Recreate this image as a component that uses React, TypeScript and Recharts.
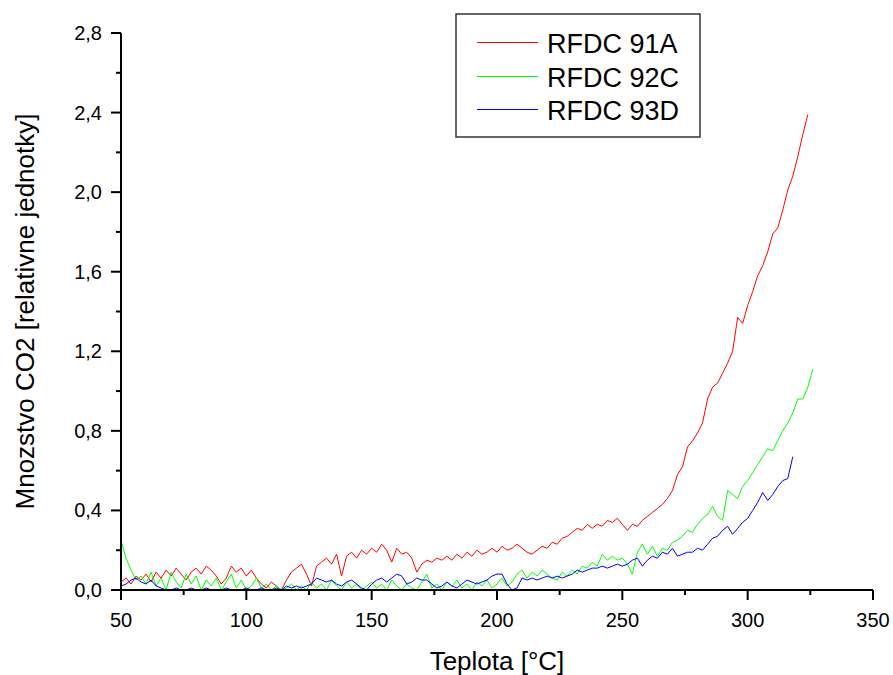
import React from 'react';
import { LineChart, Line, XAxis, YAxis, Legend } from 'recharts';

const FONT = '"Liberation Sans", Arial, sans-serif';

// teplota [°C]
const temps = [
  50, 52, 54, 56, 58, 60, 62, 64, 66, 68,
  70, 72, 74, 76, 78, 80, 82, 84, 86, 88,
  90, 92, 94, 96, 98, 100, 102, 104, 106, 108,
  110, 112, 114, 116, 118, 120, 122, 124, 126, 128,
  130, 132, 134, 136, 138, 140, 142, 144, 146, 148,
  150, 152, 154, 156, 158, 160, 162, 164, 166, 168,
  170, 172, 174, 176, 178, 180, 182, 184, 186, 188,
  190, 192, 194, 196, 198, 200, 202, 204, 206, 208,
  210, 212, 214, 216, 218, 220, 222, 224, 226, 228,
  230, 232, 234, 236, 238, 240, 242, 244, 246, 248,
  250, 252, 254, 256, 258, 260, 262, 264, 266, 268,
  270, 272, 274, 276, 278, 280, 282, 284, 286, 288,
  290, 292, 294, 296, 298, 300, 302, 304, 306, 308,
  310, 312, 314, 316, 318, 320, 322, 324, 326,
];

const rfdc91A = [
  0.04, 0.06, 0.03, 0.07, 0.05, 0.08, 0.04, 0.09, 0.06, 0.10,
  0.07, 0.11, 0.08, 0.05, 0.09, 0.11, 0.08, 0.12, 0.10, 0.07,
  0.03, 0.06, 0.12, 0.09, 0.11, 0.07, 0.10, 0.06, 0.03, 0.01,
  0.04, 0.02, 0.00, 0.05, 0.09, 0.11, 0.13, 0.08, 0.02, 0.12,
  0.14, 0.16, 0.13, 0.18, 0.07, 0.17, 0.19, 0.16, 0.20, 0.18,
  0.21, 0.19, 0.23, 0.20, 0.14, 0.21, 0.18, 0.19, 0.16, 0.09,
  0.13, 0.15, 0.14, 0.16, 0.15, 0.17, 0.15, 0.18, 0.16, 0.19,
  0.17, 0.20, 0.18, 0.19, 0.21, 0.19, 0.22, 0.20, 0.21, 0.23,
  0.21, 0.19, 0.18, 0.20, 0.22, 0.21, 0.24, 0.23, 0.26, 0.27,
  0.29, 0.31, 0.30, 0.33, 0.31, 0.33, 0.32, 0.35, 0.34, 0.36,
  0.33, 0.30, 0.33, 0.32, 0.35, 0.37, 0.39, 0.41, 0.43, 0.46,
  0.50, 0.58, 0.62, 0.72, 0.75, 0.79, 0.84, 0.96, 1.02, 1.04,
  1.09, 1.14, 1.20, 1.37, 1.34, 1.43, 1.50, 1.58, 1.63, 1.70,
  1.79, 1.82, 1.91, 2.01, 2.08, 2.18, 2.29, 2.39, null,
];

const rfdc92C = [
  0.25, 0.16, 0.10, 0.05, 0.07, 0.03, 0.09, 0.02, 0.06, 0.00,
  0.09, 0.04, 0.01, 0.08, 0.03, 0.07, 0.00, 0.05, 0.02, 0.06,
  0.00, 0.04, 0.08, 0.01, 0.05, 0.00, 0.02, 0.06, 0.01, 0.03,
  0.00, 0.02, 0.00, 0.01, 0.03, 0.00, 0.02, 0.00, 0.04, 0.01,
  0.03, 0.00, 0.05, 0.02, 0.00, 0.04, 0.01, 0.03, 0.00, 0.02,
  0.04, 0.01, 0.03, 0.00, 0.05, 0.02, 0.00, 0.03, 0.01, 0.00,
  0.04, 0.08, 0.01, 0.03, 0.00, 0.04, 0.02, 0.05, 0.01, 0.03,
  0.00, 0.04, 0.02, 0.05, 0.01, 0.03, 0.06, 0.02, 0.04, 0.08,
  0.10, 0.06, 0.09, 0.07, 0.10, 0.08, 0.06, 0.05, 0.09, 0.07,
  0.10, 0.08, 0.12, 0.11, 0.14, 0.12, 0.18, 0.15, 0.17, 0.15,
  0.16, 0.13, 0.08, 0.19, 0.23, 0.18, 0.22, 0.17, 0.21, 0.20,
  0.24, 0.25, 0.27, 0.30, 0.29, 0.33, 0.36, 0.38, 0.42, 0.37,
  0.35, 0.50, 0.48, 0.46, 0.52, 0.55, 0.59, 0.63, 0.67, 0.71,
  0.70, 0.75, 0.80, 0.84, 0.89, 0.96, 0.96, 1.02, 1.11,
];

const rfdc93D = [
  0.02, 0.03, 0.05, 0.06, 0.04, 0.03, 0.05, 0.02, 0.01, 0.00,
  0.00, 0.01, 0.00, 0.00, 0.01, 0.00, 0.00, 0.01, 0.00, 0.00,
  0.00, 0.01, 0.00, 0.00, 0.00, 0.01, 0.00, 0.00, 0.01, 0.00,
  0.00, 0.01, 0.00, 0.02, 0.01, 0.02, 0.01, 0.02, 0.03, 0.06,
  0.05, 0.04, 0.05, 0.03, 0.02, 0.04, 0.05, 0.03, 0.01, 0.00,
  0.03, 0.05, 0.06, 0.04, 0.06, 0.08, 0.07, 0.03, 0.04, 0.06,
  0.05, 0.05, 0.03, 0.01, 0.02, 0.04, 0.02, 0.01, 0.03, 0.05,
  0.04, 0.03, 0.04, 0.05, 0.07, 0.08, 0.08, 0.03, 0.00, 0.01,
  0.06, 0.05, 0.06, 0.05, 0.06, 0.07, 0.06, 0.07, 0.06, 0.07,
  0.08, 0.10, 0.09, 0.10, 0.11, 0.11, 0.12, 0.11, 0.12, 0.13,
  0.12, 0.13, 0.15, 0.16, 0.12, 0.15, 0.17, 0.16, 0.19, 0.18,
  0.21, 0.17, 0.18, 0.19, 0.19, 0.21, 0.20, 0.23, 0.26, 0.27,
  0.30, 0.32, 0.28, 0.31, 0.34, 0.36, 0.40, 0.44, 0.49, 0.45,
  0.48, 0.52, 0.55, 0.56, 0.67, null, null, null, null,
];

const seriesNames = ['RFDC 91A', 'RFDC 92C', 'RFDC 93D'];
const seriesColors = ['#ff0000', '#00ff00', '#0000ff'];

const xTicks = [50, 75, 100, 125, 150, 175, 200, 225, 250, 275, 300, 325, 350];
const xMajor = [50, 100, 150, 200, 250, 300, 350];
const yTicks = [0, 0.2, 0.4, 0.6, 0.8, 1.0, 1.2, 1.4, 1.6, 1.8, 2.0, 2.2, 2.4, 2.6, 2.8];
const yMajor = [0, 0.4, 0.8, 1.2, 1.6, 2.0, 2.4, 2.8];

const data = temps.map((t, i) => ({
  t,
  a: rfdc91A[i],
  c: rfdc92C[i],
  d: rfdc93D[i],
}));

const XTick = (props: any) => {
  const { x, y, payload } = props;
  const major = xMajor.includes(payload.value);
  return (
    <g>
      <line x1={x} x2={x} y1={y} y2={y + (major ? 10 : 5)} stroke="#000" strokeWidth={2} />
      {major && (
        <text x={x} y={y + 37} textAnchor="middle" fontSize={20} fontFamily={FONT} fill="#000">
          {payload.value}
        </text>
      )}
    </g>
  );
};

const YTick = (props: any) => {
  const { x, y, payload } = props;
  const major = yMajor.some((v) => Math.abs(v - payload.value) < 1e-6);
  return (
    <g>
      <line x1={x - (major ? 10 : 5)} x2={x} y1={y} y2={y} stroke="#000" strokeWidth={2} />
      {major && (
        <text x={x - 19} y={y + 7} textAnchor="end" fontSize={20} fontFamily={FONT} fill="#000">
          {payload.value.toFixed(1).replace('.', ',')}
        </text>
      )}
    </g>
  );
};

// legenda v ramceku, riadky ~33 px od seba
const legendRows = [29.5, 63.5, 96.5];

const LegendBox = () => (
  <svg width={246} height={125} style={{ display: 'block' }}>
    <rect x={1} y={1} width={244} height={123} fill="#fff" stroke="#333" strokeWidth={1.5} />
    {seriesNames.map((name, i) => (
      <g key={name}>
        <line x1={22} x2={83} y1={legendRows[i]} y2={legendRows[i]} stroke={seriesColors[i]} strokeWidth={1.2} />
        <text x={92} y={legendRows[i] + 10} fontSize={27} fontFamily={FONT} fill="#000">
          {name}
        </text>
      </g>
    ))}
  </svg>
);

const App: React.FC = () => {
  return (
    <div style={{ position: 'absolute', left: 0, top: 0, width: 893, height: 675, background: '#fff' }}>
      <LineChart width={893} height={675} data={data} margin={{ top: 33, right: 20, bottom: 0, left: 5 }}>
        <XAxis
          dataKey="t"
          type="number"
          domain={[50, 350]}
          ticks={xTicks}
          interval={0}
          height={85}
          tickLine={false}
          tickSize={0}
          tickMargin={0}
          tick={<XTick />}
          axisLine={{ stroke: '#000', strokeWidth: 2 }}
          allowDataOverflow
          label={{ value: 'Teplota [°C]', position: 'insideBottom', offset: 5, fontSize: 26, fontFamily: FONT, fill: '#000' }}
        />
        <YAxis
          type="number"
          domain={[0, 2.8]}
          ticks={yTicks}
          interval={0}
          width={116}
          tickLine={false}
          tickSize={0}
          tickMargin={0}
          tick={<YTick />}
          axisLine={{ stroke: '#000', strokeWidth: 2 }}
          allowDataOverflow
          label={{
            value: 'Mnozstvo CO2 [relativne jednotky]',
            angle: -90,
            position: 'insideLeft',
            offset: 20,
            fontSize: 26,
            fontFamily: FONT,
            fill: '#000',
            style: { textAnchor: 'middle' },
          }}
        />
        <Legend
          layout="vertical"
          align="center"
          verticalAlign="middle"
          content={<LegendBox />}
          wrapperStyle={{ left: 455, top: 13, width: 246, height: 125 }}
        />
        <Line type="linear" dataKey="a" name={seriesNames[0]} stroke={seriesColors[0]} strokeWidth={1} dot={false} isAnimationActive={false} />
        <Line type="linear" dataKey="c" name={seriesNames[1]} stroke={seriesColors[1]} strokeWidth={1} dot={false} isAnimationActive={false} />
        <Line type="linear" dataKey="d" name={seriesNames[2]} stroke={seriesColors[2]} strokeWidth={1} dot={false} isAnimationActive={false} />
      </LineChart>
    </div>
  );
};

export default App;
